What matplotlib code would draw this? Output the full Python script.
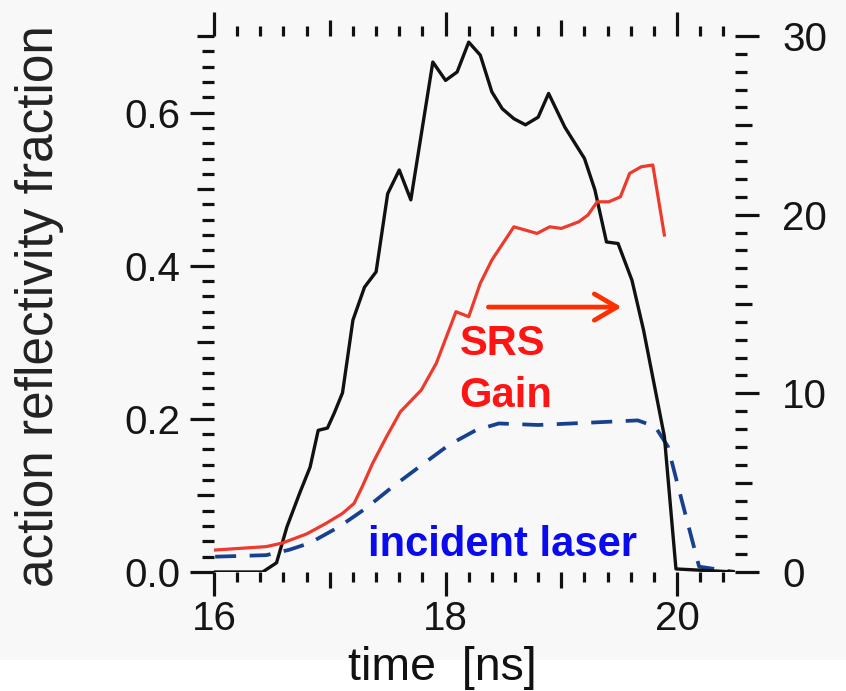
import matplotlib
matplotlib.use("Agg")
import matplotlib.pyplot as plt
from matplotlib.patches import Rectangle
from matplotlib.ticker import FixedLocator, FixedFormatter, MultipleLocator

plt.rcParams['font.family'] = ['Liberation Sans', 'DejaVu Sans']

# action reflectivity fraction (left axis)
time_refl = [16.0, 16.42, 16.54, 16.63, 16.74, 16.83, 16.90, 16.98, 17.04, 17.11,
             17.20, 17.30, 17.40, 17.50, 17.60, 17.70, 17.89, 18.00, 18.10, 18.20,
             18.30, 18.40, 18.49, 18.59, 18.69, 18.80, 18.89, 19.03, 19.20, 19.29,
             19.39, 19.49, 19.61, 19.71, 19.89, 19.99, 20.5]
refl = [0.0, 0.0, 0.012, 0.059, 0.103, 0.137, 0.185, 0.188, 0.208, 0.234,
        0.329, 0.372, 0.392, 0.494, 0.525, 0.486, 0.666, 0.642, 0.653, 0.692,
        0.675, 0.627, 0.605, 0.592, 0.584, 0.594, 0.625, 0.581, 0.540, 0.499,
        0.431, 0.429, 0.381, 0.316, 0.177, 0.004, 0.0]

# SRS gain (right axis)
time_gain = [16.01, 16.45, 16.59, 16.80, 16.97, 17.11, 17.21, 17.28, 17.37, 17.49,
             17.61, 17.79, 17.92, 18.09, 18.20, 18.30, 18.40, 18.59, 18.79, 18.90,
             19.00, 19.15, 19.23, 19.31, 19.41, 19.51, 19.59, 19.69, 19.79, 19.89]
gain = [1.23, 1.42, 1.62, 2.13, 2.73, 3.28, 3.84, 4.77, 6.08, 7.57,
        8.97, 10.18, 11.68, 14.57, 14.29, 16.16, 17.46, 19.32, 18.95, 19.32,
        19.23, 19.60, 19.98, 20.72, 20.72, 21.00, 22.31, 22.68, 22.78, 18.86]

# incident laser power (left axis, arbitrary scale)
time_laser = [16.01, 16.45, 16.65, 16.83, 17.08, 17.31, 17.54, 17.77, 18.03, 18.26,
              18.46, 18.80, 19.09, 19.38, 19.66, 19.81, 19.92, 20.01, 20.10, 20.19, 20.5]
laser = [0.020, 0.022, 0.029, 0.038, 0.059, 0.083, 0.111, 0.137, 0.166, 0.185,
         0.194, 0.192, 0.194, 0.196, 0.198, 0.190, 0.164, 0.111, 0.059, 0.007, 0.0]

x_major = [16, 17, 18, 19, 20]
x_labels = ['16', '', '18', '', '20']
yl_major = [0.0, 0.1, 0.2, 0.3, 0.4, 0.5, 0.6, 0.7]
yl_labels = ['0.0', '', '0.2', '', '0.4', '', '0.6', '']
yr_major = [0, 5, 10, 15, 20, 25, 30]
yr_labels = ['0', '', '10', '', '20', '', '30']

W, H = 846, 691
fig = plt.figure(figsize=(W / 100, H / 100), dpi=100)
fig.patch.set_facecolor('white')
fig.add_artist(Rectangle((0, 31 / H), 1, 1 - 31 / H, transform=fig.transFigure,
                         facecolor='#f8f8f8', edgecolor='none', zorder=-10))

ax = fig.add_axes([214 / W, 1 - 572 / H, (735 - 214) / W, (572 - 36) / H])
ax.patch.set_visible(False)
ax2 = ax.twinx()
ax2.patch.set_visible(False)

for a in (ax, ax2):
    for s in a.spines.values():
        s.set_visible(False)

ax.set_xlim(16, 20.5)
ax.set_ylim(0, 0.7)
ax2.set_ylim(0, 30)

tick_col = '#111111'
ax.xaxis.set_major_locator(FixedLocator(x_major))
ax.xaxis.set_major_formatter(FixedFormatter(x_labels))
ax.xaxis.set_minor_locator(MultipleLocator(0.2))
ax.yaxis.set_major_locator(FixedLocator(yl_major))
ax.yaxis.set_major_formatter(FixedFormatter(yl_labels))
ax.yaxis.set_minor_locator(MultipleLocator(0.02))
ax2.yaxis.set_major_locator(FixedLocator(yr_major))
ax2.yaxis.set_major_formatter(FixedFormatter(yr_labels))
ax2.yaxis.set_minor_locator(MultipleLocator(1))

ax.tick_params(axis='x', which='both', direction='out', bottom=True, top=True,
               labeltop=False, width=2.3, color=tick_col)
ax.tick_params(axis='x', which='major', length=17, pad=3, labelsize=29,
               labelcolor='#151515')
ax.tick_params(axis='x', which='minor', length=7.5)
ax.tick_params(axis='y', which='both', direction='out', left=True, right=False,
               width=2.3, color=tick_col)
ax.tick_params(axis='y', which='major', length=17, pad=7, labelsize=29,
               labelcolor='#151515')
ax.tick_params(axis='y', which='minor', length=8.5)
ax2.tick_params(axis='y', which='both', direction='out', left=False, right=True,
                width=2.3, color=tick_col)
ax2.tick_params(axis='y', which='major', length=17, pad=17, labelsize=29,
                labelcolor='#151515')
ax2.tick_params(axis='y', which='minor', length=8.5)

# intermediate (unlabelled) major ticks are drawn at medium length
for axis, labels, med in ((ax.xaxis, x_labels, 11.5), (ax.yaxis, yl_labels, 12.5),
                          (ax2.yaxis, yr_labels, 12.5)):
    ticks = axis.get_major_ticks(len(labels))
    for t, lab in zip(ticks, labels):
        if lab == '':
            t.tick1line.set_markersize(med)
            t.tick2line.set_markersize(med)

ax.plot(time_refl, refl, color='#111111', lw=2.4, solid_joinstyle='round', zorder=3)
ax.plot(time_laser, laser, color='#17418f', lw=2.7, dashes=(5.6, 3.6), zorder=2)
ax2.plot(time_gain, gain, color='#ee3a2c', lw=2.3, solid_joinstyle='round', zorder=3)

ax.text(18.12, 0.283, 'SRS', color='#ff1414', fontsize=30, fontweight='bold',
        ha='left', va='baseline')
ax.text(18.12, 0.215, 'Gain', color='#ff1414', fontsize=30, fontweight='bold',
        ha='left', va='baseline')
ax.text(17.33, 0.021, 'incident laser', color='#0a0aee', fontsize=30,
        fontweight='bold', ha='left', va='baseline')
ax.annotate('', xy=(19.52, 0.346), xytext=(18.37, 0.346),
            arrowprops=dict(arrowstyle='->,head_length=0.65,head_width=0.38',
                            lw=3.4, color='#ff3000', mutation_scale=25,
                            shrinkA=0, shrinkB=0))

fig.text(442 / W, 1 - 680 / H, 'time  [ns]', ha='center', va='baseline',
         fontsize=33.5, color='#111111')
fig.text(40 / W, 1 - 306 / H, 'action reflectivity fraction', rotation=90,
         ha='center', va='center', fontsize=37, color='#222222')

fig.savefig('out.png', dpi=100, facecolor=fig.get_facecolor())
